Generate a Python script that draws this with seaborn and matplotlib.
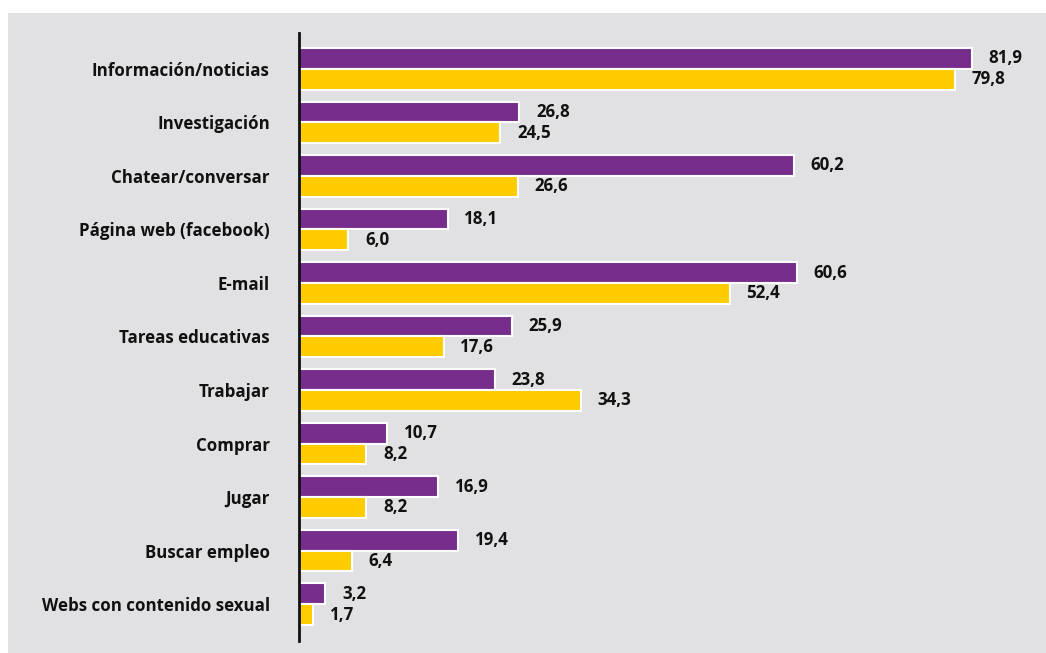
import matplotlib
matplotlib.use("Agg")
import matplotlib.pyplot as plt
from matplotlib.patches import Rectangle
import seaborn as sns
import pandas as pd

categorias = [
    "Información/noticias",
    "Investigación",
    "Chatear/conversar",
    "Página web (facebook)",
    "E-mail",
    "Tareas educativas",
    "Trabajar",
    "Comprar",
    "Jugar",
    "Buscar empleo",
    "Webs con contenido sexual",
]
serie_1 = [81.9, 26.8, 60.2, 18.1, 60.6, 25.9, 23.8, 10.7, 16.9, 19.4, 3.2]
serie_2 = [79.8, 24.5, 26.6, 6.0, 52.4, 17.6, 34.3, 8.2, 8.2, 6.4, 1.7]
series = ["Serie 1", "Serie 2"]

colores = ["#772d8b", "#ffcc00"]
fondo = "#e1e1e3"

df = pd.DataFrame({
    "categoria": categorias * 2,
    "serie": [series[0]] * len(categorias) + [series[1]] * len(categorias),
    "valor": serie_1 + serie_2,
})

sns.set_theme(style="white")
plt.rcParams["font.family"] = ["Open Sans", "DejaVu Sans"]

fig = plt.figure(figsize=(10.46, 6.53), dpi=100)
fig.patch.set_facecolor("white")
# grey panel behind the chart
fig.add_artist(Rectangle((8 / 1046, 0), 1 - 8 / 1046, 1 - 13 / 653,
                         transform=fig.transFigure, facecolor=fondo,
                         edgecolor="none", zorder=-10))

ax = fig.add_axes([299 / 1046, 1 - 641 / 653, 738 / 1046, 608 / 653])
ax.set_facecolor("none")
ax.set_zorder(5)

sns.barplot(data=df, y="categoria", x="valor", hue="serie", order=categorias,
            hue_order=series, palette=colores, orient="h", width=0.78,
            edgecolor="white", linewidth=1.5, saturation=1, legend=False, ax=ax)

for cont, vals in zip(ax.containers, [serie_1, serie_2]):
    ax.bar_label(cont, labels=[f"{v:.1f}".replace(".", ",") for v in vals],
                 padding=12, fontsize=12.2, fontweight="bold", color="#111111")

ax.set_xlim(0, 89.8)
ax.set_ylim(10.69, -0.67)
ax.set_xlabel("")
ax.set_ylabel("")
ax.set_xticks([])
for s in ["top", "right", "bottom"]:
    ax.spines[s].set_visible(False)
ax.spines["left"].set_color("#111111")
ax.spines["left"].set_linewidth(2)
ax.tick_params(axis="y", length=0, pad=21)
for t in ax.get_yticklabels():
    t.set_fontsize(12.2)
    t.set_fontweight("bold")
    t.set_color("#111111")

fig.savefig("out.png", dpi=100, facecolor=fig.get_facecolor())
